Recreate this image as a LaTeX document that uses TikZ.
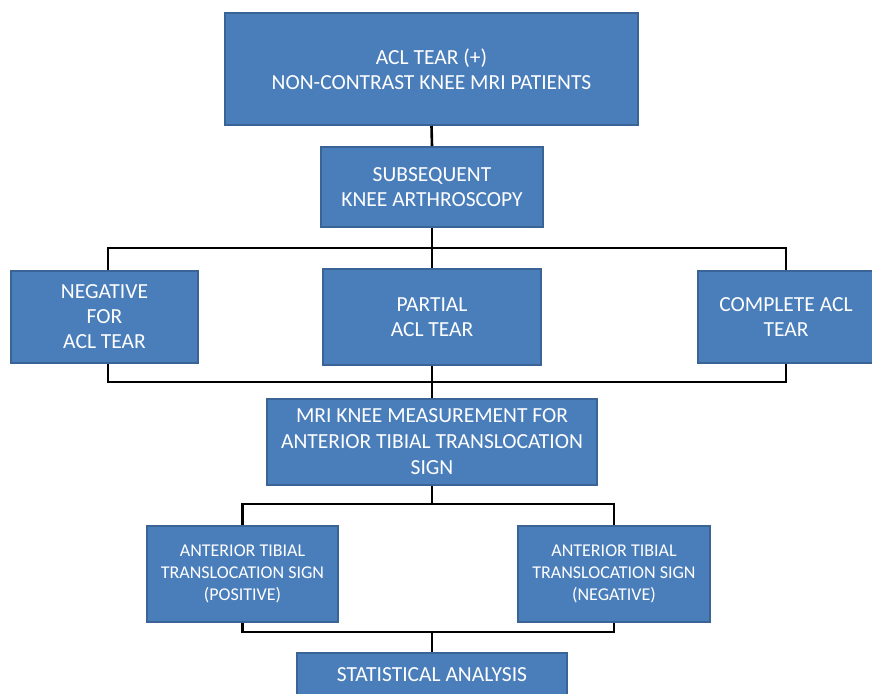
\documentclass[tikz,border=0pt]{standalone}
\usepackage{fontspec}
\setmainfont{Carlito}
\definecolor{boxfill}{HTML}{4A7EBB}
\definecolor{boxline}{HTML}{3A6496}
\begin{document}
\begin{tikzpicture}[x=1pt,y=-1pt,
  box/.style={draw=boxline, line width=2pt, fill=boxfill, text=white, align=center,
    inner sep=0pt, font=\fontsize{21.5}{25}\selectfont},
  smallbox/.style={box, font=\fontsize{18}{22}\selectfont},
  conn/.style={draw=black, line width=2.6pt}]
\useasboundingbox (0,0) rectangle (872,693);
\node[box, minimum width=413, minimum height=112] (top) at (431.5,69) {ACL TEAR (+)\\NON-CONTRAST KNEE MRI PATIENTS};
\node[box, minimum width=222, minimum height=80] (sub) at (432,187) {SUBSEQUENT\\KNEE ARTHROSCOPY};
\node[box, minimum width=187, minimum height=92] (neg) at (104.5,317) {NEGATIVE\\FOR\\ACL TEAR};
\node[box, minimum width=218, minimum height=96] (part) at (432,317) {PARTIAL\\ACL TEAR};
\node[box, minimum width=176, minimum height=92] (comp) at (786,317) {COMPLETE ACL\\TEAR};
\node[box, minimum width=330, minimum height=86, font=\fontsize{21.5}{26}\selectfont] (mri) at (432,442) {MRI KNEE MEASUREMENT FOR\\ANTERIOR TIBIAL TRANSLOCATION\\SIGN};
\node[smallbox, minimum width=191, minimum height=96] (pos) at (242.5,574) {ANTERIOR TIBIAL\\TRANSLOCATION SIGN\\(POSITIVE)};
\node[smallbox, minimum width=192, minimum height=96] (nsig) at (614,574) {ANTERIOR TIBIAL\\TRANSLOCATION SIGN\\(NEGATIVE)};
\node[box, minimum width=270, minimum height=44] (stat) at (432,675) {STATISTICAL ANALYSIS};
\coordinate (b1) at (432,248);
\coordinate (b2) at (432,382);
\coordinate (b3) at (432,504);
\coordinate (b4) at (432,632);
\draw[conn] (top.south) -- (sub.north);
\draw[conn] (sub.south) -- (b1);
\draw[conn] (neg.north -| 108,0) |- (b1) -| (comp.north);
\draw[conn] (b1) -- (part.north);
\draw[conn] (neg.south -| 108,0) |- (b2) -| (comp.south);
\draw[conn] (part.south) -- (mri.north);
\draw[conn] (mri.south) -- (b3);
\draw[conn] (pos.north) |- (b3) -| (nsig.north);
\draw[conn] (pos.south) |- (b4) -| (nsig.south);
\draw[conn] (b4) -- (stat.north);
\end{tikzpicture}
\end{document}
